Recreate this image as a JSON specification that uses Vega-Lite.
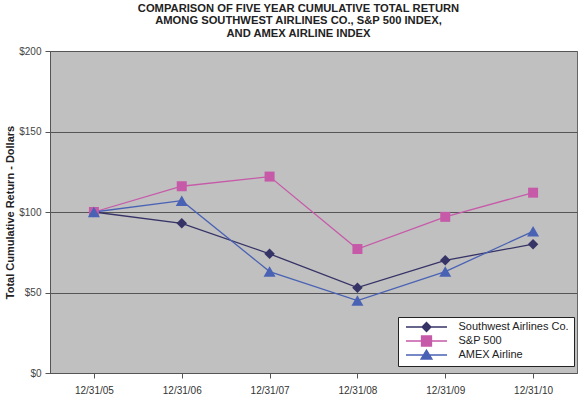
{
  "$schema": "https://vega.github.io/schema/vega-lite/v6.json",
  "width": 527,
  "height": 322,
  "autosize": "none",
  "padding": {"left": 50, "top": 51, "right": 2, "bottom": 24},
  "background": "white",
  "title": {
    "text": ["COMPARISON OF FIVE YEAR CUMULATIVE TOTAL RETURN", "AMONG SOUTHWEST AIRLINES CO., S&P 500 INDEX,", "AND AMEX AIRLINE INDEX"],
    "font": "Liberation Sans",
    "fontSize": 11.2,
    "fontWeight": "bold",
    "color": "#222222",
    "lineHeight": 12.5,
    "anchor": "middle",
    "dx": -15,
    "offset": 7
  },
  "data": {
    "values": [
      {"date": "12/31/05", "series": "Southwest Airlines Co.", "value": 100},
      {"date": "12/31/06", "series": "Southwest Airlines Co.", "value": 93},
      {"date": "12/31/07", "series": "Southwest Airlines Co.", "value": 74},
      {"date": "12/31/08", "series": "Southwest Airlines Co.", "value": 53},
      {"date": "12/31/09", "series": "Southwest Airlines Co.", "value": 70},
      {"date": "12/31/10", "series": "Southwest Airlines Co.", "value": 80},
      {"date": "12/31/05", "series": "S&P 500", "value": 100},
      {"date": "12/31/06", "series": "S&P 500", "value": 116},
      {"date": "12/31/07", "series": "S&P 500", "value": 122},
      {"date": "12/31/08", "series": "S&P 500", "value": 77},
      {"date": "12/31/09", "series": "S&P 500", "value": 97},
      {"date": "12/31/10", "series": "S&P 500", "value": 112},
      {"date": "12/31/05", "series": "AMEX Airline", "value": 100},
      {"date": "12/31/06", "series": "AMEX Airline", "value": 107},
      {"date": "12/31/07", "series": "AMEX Airline", "value": 63},
      {"date": "12/31/08", "series": "AMEX Airline", "value": 45},
      {"date": "12/31/09", "series": "AMEX Airline", "value": 63},
      {"date": "12/31/10", "series": "AMEX Airline", "value": 88}
    ]
  },
  "encoding": {
    "x": {
      "field": "date",
      "type": "ordinal",
      "sort": null,
      "scale": {"type": "point", "padding": 0.5},
      "axis": {
        "title": null,
        "labelAngle": 0,
        "labelFont": "Liberation Sans",
        "labelFontSize": 10,
        "labelColor": "#333333",
        "tickColor": "#555555",
        "tickSize": 5,
        "labelPadding": 7,
        "domainColor": "#555555",
        "grid": false
      }
    },
    "y": {
      "field": "value",
      "type": "quantitative",
      "scale": {"domain": [0, 200], "nice": false},
      "axis": {
        "title": "Total Cumulative Return - Dollars",
        "titleFont": "Liberation Sans",
        "titleFontSize": 11,
        "titleFontWeight": "bold",
        "titleColor": "#222222",
        "titlePadding": 3,
        "values": [0, 50, 100, 150, 200],
        "format": "$.0f",
        "labelFont": "Liberation Sans",
        "labelFontSize": 10,
        "labelColor": "#444444",
        "labelPadding": 4,
        "tickColor": "#555555",
        "tickSize": 5,
        "domainColor": "#555555",
        "grid": true,
        "gridColor": "#555555",
        "gridWidth": 1
      }
    },
    "color": {
      "field": "series",
      "type": "nominal",
      "scale": {
        "domain": ["Southwest Airlines Co.", "S&P 500", "AMEX Airline"],
        "range": ["#363366", "#c65aa9", "#4a62b4"]
      }
    }
  },
  "layer": [
    {
      "mark": {"type": "line", "strokeWidth": 1.3},
      "encoding": {
        "color": {
          "field": "series",
          "type": "nominal",
          "legend": {
            "title": null,
            "orient": "none",
            "legendX": 348,
            "legendY": 266,
            "fillColor": "white",
            "strokeColor": "#222222",
            "padding": 4,
            "symbolSize": 100,
            "symbolStrokeWidth": 1.3,
            "symbolOffset": 18.5,
            "symbolType": {"expr": "datum.value === 'Southwest Airlines Co.' ? 'M-4.1,0H4.1M0,-0.9L0.9,0L0,0.9L-0.9,0Z' : datum.value === 'S&P 500' ? 'M-4.1,0H4.1M-1,-1H1V1H-1Z' : 'M-4.1,0H4.1M0,-1L1.1,0.8H-1.1Z'"},
            "symbolFillColor": {"expr": "scale('color', datum.value)"},
            "symbolStrokeColor": {"expr": "scale('color', datum.value)"},
            "labelFont": "Liberation Sans",
            "labelFontSize": 11,
            "labelColor": "#222222",
            "labelOffset": 26,
            "rowPadding": -2
          }
        }
      }
    },
    {
      "transform": [{"filter": "datum.series === 'Southwest Airlines Co.'"}],
      "mark": {"type": "point", "filled": true, "opacity": 1, "shape": "diamond", "size": 110}
    },
    {
      "transform": [{"filter": "datum.series === 'S&P 500'"}],
      "mark": {"type": "point", "filled": true, "opacity": 1, "shape": "square", "size": 100}
    },
    {
      "transform": [{"filter": "datum.series === 'AMEX Airline'"}],
      "mark": {"type": "point", "filled": true, "opacity": 1, "shape": "triangle-up", "size": 144}
    }
  ],
  "config": {
    "view": {"fill": "#c0c0c0", "stroke": "#666666"}
  }
}
